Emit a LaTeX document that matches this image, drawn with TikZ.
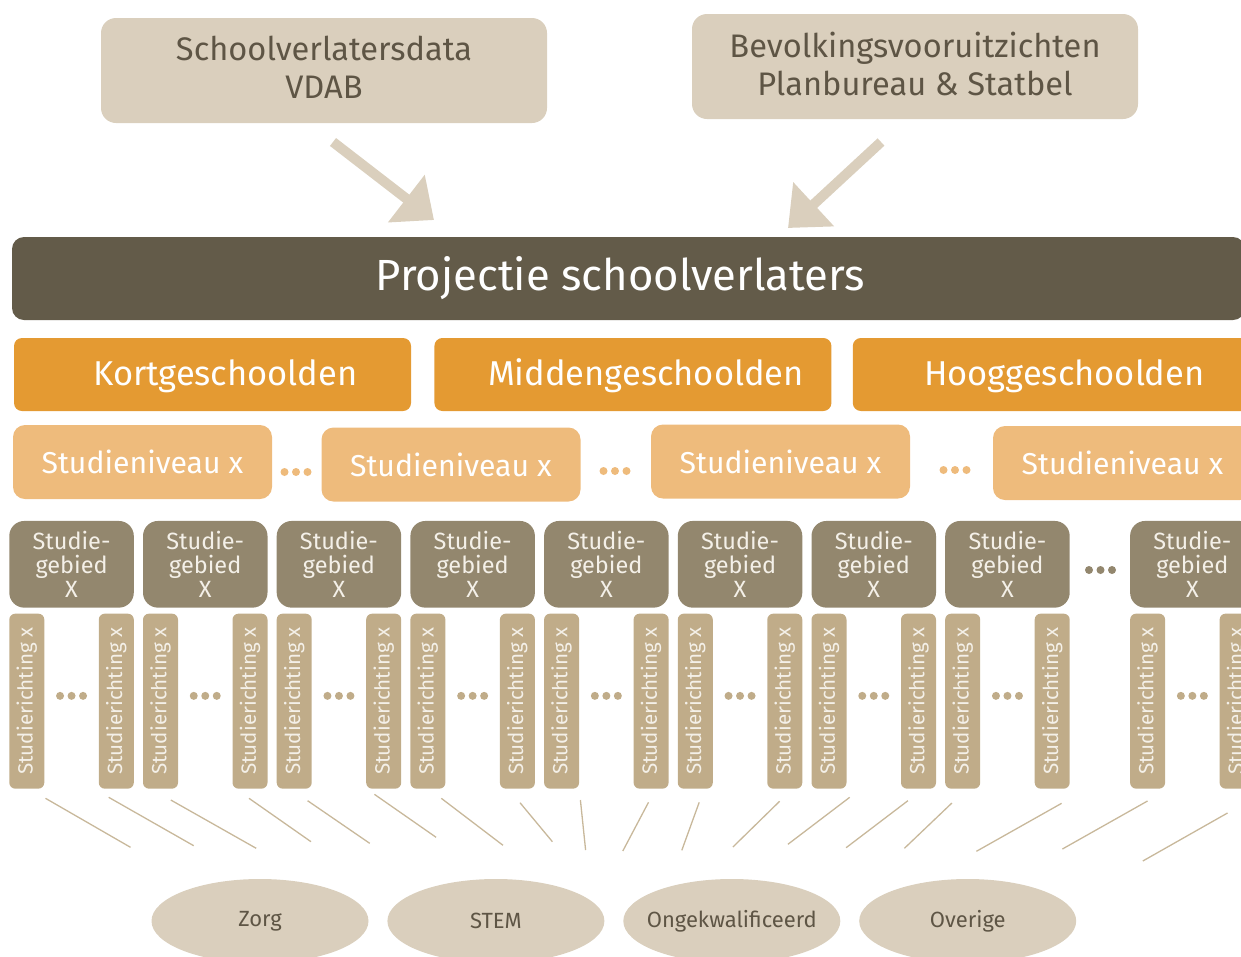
\documentclass[tikz,border=0pt]{standalone}
\usepackage{fontspec}
\setmainfont{Fira Sans}
\usepackage{tikz}
\usetikzlibrary{positioning}
\usetikzlibrary{shapes.geometric}
\usetikzlibrary{arrows.meta}

\definecolor{srcfill}{HTML}{DACFBD}
\definecolor{srctext}{HTML}{5E5545}
\definecolor{barfill}{HTML}{635B49}
\definecolor{levelfill}{HTML}{E49A32}
\definecolor{niveaufill}{HTML}{EEBB7C}
\definecolor{gebiedfill}{HTML}{93876E}
\definecolor{richtingfill}{HTML}{C0AC89}
\definecolor{linkline}{HTML}{C8B89B}
\definecolor{paletext}{HTML}{F4F0E8}

\tikzset{
  srcbox/.style={rectangle, rounded corners=15pt, fill=srcfill, text=srctext, align=center,
    minimum width=446pt, minimum height=105pt, inner sep=0pt, text depth=6pt,
    font=\fontsize{32.6}{38}\selectfont},
  barbox/.style={rectangle, rounded corners=12pt, fill=barfill, text=white,
    minimum width=1233pt, minimum height=83pt, inner sep=0pt, font=\fontsize{43.6}{50}\selectfont,
    execute at begin node={\hspace*{-16pt}}},
  levelbox/.style={rectangle, rounded corners=8pt, fill=levelfill, text=white,
    minimum width=397pt, minimum height=73pt, inner sep=0pt, text height=29pt,
    font=\fontsize{34.5}{40}\selectfont, execute at begin node={\hspace*{26pt}}},
  niveaubox/.style={rectangle, rounded corners=12pt, fill=niveaufill, text=white,
    minimum width=259pt, minimum height=74pt, inner sep=0pt, font=\fontsize{30.2}{36}\selectfont},
  gebiedbox/.style={rectangle, rounded corners=15pt, fill=gebiedfill, text=paletext, align=center,
    minimum width=124.5pt, minimum height=86.7pt, inner sep=0pt, font=\fontsize{23.5}{24}\selectfont},
  richtingbox/.style={rectangle, rounded corners=6pt, fill=richtingfill, text=paletext,
    minimum width=35pt, minimum height=175pt, inner sep=0pt, font=\fontsize{20.6}{24}\selectfont},
  catnode/.style={ellipse, fill=srcfill, text=srctext, minimum width=217pt, minimum height=84pt,
    inner xsep=-12pt, inner ysep=0pt, font=\fontsize{22}{26}\selectfont},
  feedarrow/.style={draw=srcfill, line width=10pt, -{Triangle[length=35pt,width=58pt]}},
  link/.style={draw=linkline, line width=1.3pt},
  ellipsisdots/.pic={\foreach \k in {-11.5,0,11.5} \fill[#1] (\k pt,0pt) circle (4pt);}
}

\begin{document}
\begin{tikzpicture}[x=1pt, y=-1pt]
    \useasboundingbox (0,0) rectangle (1241,956);
    \clip (0,0) rectangle (1241,956);

    \node[srcbox] (vdab) at (324,70.5) {Schoolverlatersdata\\VDAB};
    \node[srcbox] (plan) at (915,66.5) {Bevolkingsvooruitzichten\\Planbureau \& Statbel};

    \coordinate (in1s) at (333,142);
    \coordinate (in1e) at (434,220);
    \coordinate (in2s) at (881,142);
    \coordinate (in2e) at (788,228);
    \draw[feedarrow] (in1s) -- (in1e);
    \draw[feedarrow] (in2s) -- (in2e);

    \node[barbox] (proj) at (628.5,278.5) {Projectie schoolverlaters};

    \node[levelbox] (kort) at (212.5,374.5) {Kortgeschoolden};
    \node[levelbox, right=23pt of kort] (midden) {Middengeschoolden};
    \node[levelbox, right=21pt of midden] (hoog) {Hooggeschoolden};

    \node[niveaubox] (nv1) at (142.5,462) {Studieniveau x};
    \node[niveaubox] (nv2) at (451,464.5) {Studieniveau x};
    \node[niveaubox] (nv3) at (780.5,461.5) {Studieniveau x};
    \node[niveaubox] (nv4) at (1122.5,463) {Studieniveau x};
    \pic at (296,472) {ellipsisdots=niveaufill};
    \pic at (615,471) {ellipsisdots=niveaufill};
    \pic at (955,470) {ellipsisdots=niveaufill};

    \node[gebiedbox] (g1) at (71.55,564.3) {Studie-\\gebied\\X};
    \foreach \i [remember=\i as \j (initially 1)] in {2,...,8}
        \node[gebiedbox, right=8.8pt of g\j] (g\i) {Studie-\\gebied\\X};
    \node[gebiedbox, right=60pt of g8] (g9) {Studie-\\gebied\\X};
    \pic at (1100.5,570) {ellipsisdots=gebiedfill};

    \foreach \i in {1,...,9} {
        \node[richtingbox, below=5.6pt of g\i.south west, anchor=north west] (ra\i) {\rotatebox{90}{Studierichting x}};
        \node[richtingbox, below=5.6pt of g\i.south east, anchor=north east] (rb\i) {\rotatebox{90}{Studierichting x}};
        \pic at ([yshift=-88pt]g\i.south) {ellipsisdots=richtingfill};
    }

    \foreach \xa/\ya/\xb/\yb in {45.5/798.3/130.5/847.3, 108.7/797.3/193.7/845.7,
        170.8/800/256.2/848.3, 249/798.3/311/841.7, 307.6/800.7/369.7/843.3,
        374.4/794.3/436.1/837.3, 441.3/798.3/503/845.3, 520/802.7/552.4/841.7,
        580.4/800/585.6/850, 648.5/802.3/622.8/851, 699.2/802.3/681.8/850.3,
        779.6/801.3/732.9/847, 849.7/797.3/787.9/844.3, 907.9/800.7/846.1/847.7,
        951.9/803/904.4/848.3, 1061.6/803.3/976.4/851.3, 1147.5/801/1062.4/849,
        1227.5/813/1142.8/861}
        \draw[link] (\xa,\ya) -- (\xb,\yb);

    \node[catnode] (zorg) at (260,921) {Zorg};
    \node[catnode, right=18.5pt of zorg] (stem) {STEM};
    \node[catnode, right=18.5pt of stem] (ongekw) {Ongekwalificeerd};
    \node[catnode, right=18.5pt of ongekw] (overige) {Overige};
\end{tikzpicture}
\end{document}
